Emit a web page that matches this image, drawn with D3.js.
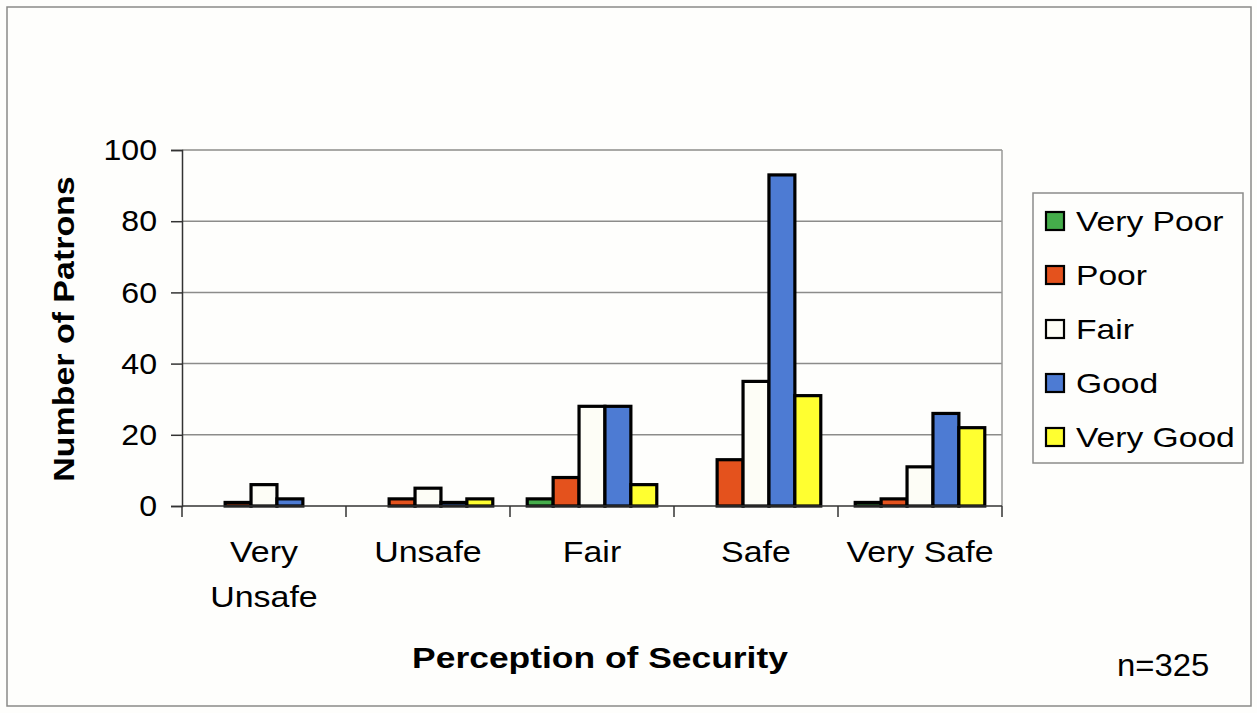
<!DOCTYPE html>
<html>
<head>
<meta charset="utf-8">
<script src="https://cdnjs.cloudflare.com/ajax/libs/d3/7.8.5/d3.min.js"></script>
<style>
  body { margin: 0; background: #fff; }
  text { font-family: Arial, "Liberation Sans", sans-serif; fill: #000; }
</style>
</head>
<body>
<div id="demo"></div>
<script>
// chart data
let categories = ["Very Unsafe", "Unsafe", "Fair", "Safe", "Very Safe"];
let seriesNames = ["Very Poor", "Poor", "Fair", "Good", "Very Good"];
let veryPoor = [0, 0, 2, 0, 1];
let poor = [1, 2, 8, 13, 2];
let fair = [6, 5, 28, 35, 11];
let good = [2, 1, 28, 93, 26];
let veryGood = [0, 2, 6, 31, 22];
let yTicks = [0, 20, 40, 60, 80, 100];
let colors = ["#45ad4b", "#e4521d", "#fdfdf6", "#4d7bd3", "#ffff30"];

let seriesValues = [veryPoor, poor, fair, good, veryGood];

// the scanned text is a bit wider than the font, so stretch it
let stretch = (sel, k) => {
    sel.each(function() {
        let len = this.getComputedTextLength();
        d3.select(this)
            .attr("textLength", len * k)
            .attr("lengthAdjust", "spacingAndGlyphs");
    });
};

// set the dimensions and margins of the graph
let m = {top: 150, left: 182};
let w = 820;
let h = 356;

let svg = d3.select("#demo")
    .append("svg")
    .attr("width", 1257)
    .attr("height", 713);

// page background and outer frame
svg.append("rect")
    .attr("width", 1257).attr("height", 713)
    .attr("fill", "#fefefc");
svg.append("rect")
    .attr("x", 7).attr("y", 7)
    .attr("width", 1244).attr("height", 699)
    .attr("fill", "none")
    .attr("stroke", "#8a8a88")
    .attr("stroke-width", 1.5);

let g = svg.append("g")
    .attr("transform", "translate(" + m.left + "," + m.top + ")");

// scales
let x0 = d3.scaleBand()
    .domain(categories)
    .range([0, w])
    .padding(0);

let x1 = d3.scaleBand()
    .domain(seriesNames)
    .range([x0.bandwidth() * 0.105, x0.bandwidth() * 0.895])
    .padding(0);

let y = d3.scaleLinear()
    .domain([0, 100])
    .range([h, 0]);

// gridlines
g.append("g")
    .selectAll("line")
    .data(yTicks.slice(1))
    .enter()
    .append("line")
    .attr("x1", 0).attr("x2", w)
    .attr("y1", (d) => y(d)).attr("y2", (d) => y(d))
    .attr("stroke", "#8c8c8a")
    .attr("stroke-width", 1.5);

// right border of plot area
g.append("line")
    .attr("x1", w).attr("x2", w)
    .attr("y1", 0).attr("y2", h)
    .attr("stroke", "#9a9a98")
    .attr("stroke-width", 1.5);

// bars
let groups = g.selectAll(".grp")
    .data(categories)
    .enter()
    .append("g")
    .attr("transform", (d) => "translate(" + x0(d) + ",0)");

groups.selectAll("rect")
    .data((d, i) => seriesNames.map((s, j) => ({series: s, value: seriesValues[j][i], color: colors[j]})).filter((e) => e.value > 0))
    .enter()
    .append("rect")
    .attr("x", (d) => x1(d.series))
    .attr("y", (d) => y(d.value))
    .attr("width", x1.bandwidth())
    .attr("height", (d) => y(0) - y(d.value))
    .attr("fill", (d) => d.color)
    .attr("stroke", "#000")
    .attr("stroke-width", 3.2);

// y axis
let yAxis = g.append("g")
    .call(d3.axisLeft(y).tickValues(yTicks).tickSize(11).tickPadding(14));
yAxis.select(".domain").attr("stroke", "#333").attr("stroke-width", 1.5);
yAxis.selectAll(".tick line").attr("stroke", "#333").attr("stroke-width", 1.5);
yAxis.selectAll("text")
    .attr("font-size", "30px")
    .attr("font-family", "Arial, 'Liberation Sans', sans-serif");
stretch(yAxis.selectAll("text"), 1.07);

// x axis, ticks at category boundaries
let xAxis = g.append("g")
    .attr("transform", "translate(0," + h + ")");
xAxis.append("line")
    .attr("x1", 0).attr("x2", w)
    .attr("stroke", "#333").attr("stroke-width", 1.5);
xAxis.selectAll(".xt")
    .data(categories.concat(["end"]))
    .enter()
    .append("line")
    .attr("x1", (d, i) => i * x0.step()).attr("x2", (d, i) => i * x0.step())
    .attr("y1", 0).attr("y2", 11)
    .attr("stroke", "#333").attr("stroke-width", 1.5);

// category labels (first one wraps)
let labelLines = [["Very", "Unsafe"], ["Unsafe"], ["Fair"], ["Safe"], ["Very Safe"]];
xAxis.selectAll(".xl")
    .data(categories)
    .enter()
    .append("text")
    .attr("text-anchor", "middle")
    .attr("font-size", "29px")
    .attr("x", (d) => x0(d) + x0.bandwidth() / 2)
    .attr("y", 56)
    .each(function(d, i) {
        let t = d3.select(this);
        labelLines[i].forEach((line, k) => {
            t.append("tspan")
                .attr("x", x0(d) + x0.bandwidth() / 2)
                .attr("dy", k === 0 ? 0 : 45)
                .text(line);
        });
    });
xAxis.selectAll("tspan").each(function() {
    let len = this.getComputedTextLength();
    d3.select(this).attr("textLength", len * 1.17).attr("lengthAdjust", "spacingAndGlyphs");
});

// axis titles
let xTitle = svg.append("text")
    .attr("x", 600).attr("y", 668)
    .attr("text-anchor", "middle")
    .attr("font-size", "30px")
    .attr("font-weight", "bold")
    .text("Perception of Security");
stretch(xTitle, 1.18);

let yTitle = svg.append("text")
    .attr("transform", "translate(74,329) rotate(-90)")
    .attr("text-anchor", "middle")
    .attr("font-size", "29px")
    .attr("font-weight", "bold")
    .text("Number of Patrons");
stretch(yTitle, 1.17);

let nText = svg.append("text")
    .attr("x", 1117).attr("y", 676)
    .attr("font-size", "31px")
    .text("n=325");
stretch(nText, 1.06);

// legend
let legend = svg.append("g")
    .attr("transform", "translate(1033,193)");
legend.append("rect")
    .attr("width", 210).attr("height", 270)
    .attr("fill", "#fefefc")
    .attr("stroke", "#8c8c8a")
    .attr("stroke-width", 1.5);

let items = legend.selectAll(".li")
    .data(seriesNames)
    .enter()
    .append("g")
    .attr("transform", (d, i) => "translate(0," + (28 + i * 54) + ")");
items.append("rect")
    .attr("x", 13).attr("y", -9)
    .attr("width", 18).attr("height", 18)
    .attr("fill", (d, i) => colors[i])
    .attr("stroke", "#000")
    .attr("stroke-width", 2.2);
let legendText = items.append("text")
    .attr("x", 43).attr("y", 10)
    .attr("font-size", "28px")
    .text((d) => d);
stretch(legendText, 1.2);
</script>
</body>
</html>
